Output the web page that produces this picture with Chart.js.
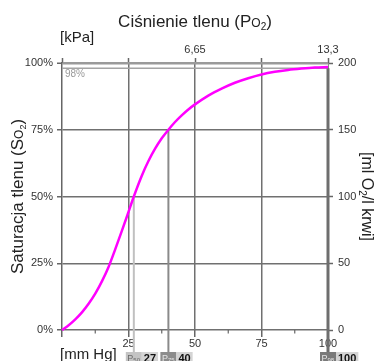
<!DOCTYPE html>
<html>
<head>
<meta charset="utf-8">
<script src="https://cdn.jsdelivr.net/npm/chart.js@4"></script>
<style>
  html, body { margin: 0; padding: 0; background: #fff; }
  canvas { display: block; }
</style>
</head>
<body>
<canvas id="chart" width="378" height="361"></canvas>
<script>
// pO2 [mm Hg] vs haemoglobin saturation [%]
const pressure = [0, 2.5, 5, 7.5, 10, 12.5, 15, 17.5, 20, 22.5, 25, 27, 30, 32.5, 35, 37.5, 40, 42.5, 45, 47.5, 50, 55, 60, 65, 70, 75, 80, 85, 90, 95, 100];
const saturation = [0, 1.8, 4, 6.6, 9.8, 13.6, 18.2, 23.6, 30.2, 37.1, 44.2, 50, 57.8, 63.3, 67.9, 71.8, 75, 77.9, 80.4, 82.6, 84.5, 87.8, 90.4, 92.6, 94.3, 95.7, 96.7, 97.4, 97.9, 98.3, 98.5];

const mmHgTicks = [0, 25, 50, 75, 100];
const minorTicks = [12.5, 37.5, 62.5, 87.5];
const kPaLabels = { 50: '6,65', 100: '13,3' };

// P50 / P75 / P98 markers
const refNames = ['50', '75', '98'];
const refPressure = [27, 40, 100];
const refSaturation = [50, 75, 98];

const FONT = '"Liberation Sans", Arial, sans-serif';
const refLineColor = ['#c0c0c0', '#8a8a8a', '#6e6e6e'];
const refLineWidth = [2, 2, 3];
const refBoxColor = ['#c4c4c4', '#8c8c8c', '#7a7a7a'];
const refBoxText = ['#6a6a6a', '#e6e6e6', '#e6e6e6'];

function line(ctx, x1, y1, x2, y2) {
  ctx.beginPath();
  ctx.moveTo(x1, y1);
  ctx.lineTo(x2, y2);
  ctx.stroke();
}

// draws text made of pieces with different sizes / baseline shifts, centred on (cx, cy)
function richText(ctx, parts, cx, cy, rot) {
  ctx.save();
  ctx.translate(cx, cy);
  ctx.rotate(rot);
  let w = 0;
  parts.forEach(p => { ctx.font = p.size + 'px ' + FONT; w += ctx.measureText(p.t).width; });
  let x = -w / 2;
  ctx.textBaseline = 'alphabetic';
  ctx.textAlign = 'left';
  parts.forEach(p => {
    ctx.font = p.size + 'px ' + FONT;
    ctx.fillText(p.t, x, parts[0].size * 0.36 + (p.dy || 0));
    x += ctx.measureText(p.t).width;
  });
  ctx.restore();
}

const extras = {
  id: 'extras',
  beforeDatasetsDraw(chart) {
    const { ctx, chartArea: a, scales: { x, y } } = chart;
    ctx.save();
    const y98 = y.getPixelForValue(98);
    ctx.strokeStyle = '#a4a4a4';
    ctx.lineWidth = 1.5;
    line(ctx, a.left, y98, a.right, y98);
    ctx.fillStyle = '#9a9a9a';
    ctx.font = '10px ' + FONT;
    ctx.textBaseline = 'top';
    ctx.fillText('98%', a.left + 3, y98 + 1);

    refPressure.forEach((p, i) => {
      const px = x.getPixelForValue(p);
      ctx.strokeStyle = refLineColor[i];
      ctx.lineWidth = refLineWidth[i];
      line(ctx, px, y.getPixelForValue(refSaturation[i]), px, a.bottom + 22);
    });
    ctx.restore();
  },
  afterDraw(chart) {
    const { ctx, chartArea: a, scales: { x } } = chart;
    ctx.save();
    ctx.fillStyle = '#222';

    // minor ticks under the mm Hg axis
    ctx.strokeStyle = '#666';
    ctx.lineWidth = 1.2;
    minorTicks.forEach(v => {
      const px = x.getPixelForValue(v);
      line(ctx, px, a.bottom, px, a.bottom + 3.5);
    });

    richText(ctx, [
      { t: 'Ciśnienie tlenu (P', size: 17 },
      { t: 'O', size: 12 },
      { t: '2', size: 10, dy: 3 },
      { t: ')', size: 17 }
    ], (a.left + a.right) / 2, 21, 0);

    richText(ctx, [
      { t: 'Saturacja tlenu (S', size: 17 },
      { t: 'O', size: 12 },
      { t: '2', size: 9, dy: 3 },
      { t: ')', size: 17 }
    ], 17, (a.top + a.bottom) / 2, -Math.PI / 2);

    richText(ctx, [
      { t: '[ml O', size: 16 },
      { t: '2', size: 10, dy: 3 },
      { t: '/l krwi]', size: 16 }
    ], 368, (a.top + a.bottom) / 2, Math.PI / 2);

    ctx.font = '15px ' + FONT;
    ctx.textBaseline = 'alphabetic';
    ctx.fillText('[kPa]', a.left - 2, 42);
    ctx.fillText('[mm Hg]', a.left - 2, 359);

    // P50 / P75 / P98 boxes
    refNames.forEach((n, i) => {
      const px = x.getPixelForValue(refPressure[i]);
      const top = a.bottom + 22, h = 10, w1 = 16;
      ctx.fillStyle = refBoxColor[i];
      ctx.fillRect(px - w1 / 2, top, w1, h);
      ctx.fillStyle = refBoxText[i];
      ctx.font = '9px ' + FONT;
      ctx.fillText('P', px - w1 / 2 + 1.5, top + 9);
      ctx.font = '6px ' + FONT;
      ctx.fillText(n, px - w1 / 2 + 7.5, top + 9.5);
      ctx.font = 'bold 11px ' + FONT;
      const val = String(refPressure[i]);
      const w2 = ctx.measureText(val).width + 4;
      ctx.fillStyle = '#d4d4d4';
      ctx.fillRect(px + w1 / 2, top, w2, h);
      ctx.fillStyle = '#111';
      ctx.fillText(val, px + w1 / 2 + 2, top + 9.5);
    });
    ctx.restore();
  }
};

const tickFont = { family: FONT, size: 11 };

new Chart(document.getElementById('chart'), {
  type: 'line',
  data: {
    datasets: [{
      data: pressure.map((p, i) => ({ x: p, y: saturation[i] })),
      borderColor: '#ff00ff',
      borderWidth: 2.5,
      pointRadius: 0,
      cubicInterpolationMode: 'monotone',
      xAxisID: 'x',
      yAxisID: 'y',
      clip: false
    }]
  },
  options: {
    responsive: false,
    animation: false,
    events: [],
    layout: { padding: 0 },
    plugins: { legend: { display: false }, tooltip: { enabled: false } },
    scales: {
      x: {
        type: 'linear', position: 'bottom', min: 0, max: 100,
        afterBuildTicks: s => { s.ticks = mmHgTicks.map(v => ({ value: v })); },
        afterFit: s => { s.height = 31; },
        ticks: { callback: v => v === 0 ? '' : v, color: '#333', font: tickFont, padding: 0, maxRotation: 0, autoSkip: false },
        grid: {
          color: c => (c.tick && (c.tick.value === 0 || c.tick.value === 100)) ? 'rgba(0,0,0,0)' : '#707070',
          lineWidth: 1.5, tickLength: 7, tickColor: '#666', tickWidth: 1.5
        },
        border: { display: false }
      },
      x2: {
        type: 'linear', position: 'top', min: 0, max: 100, display: true,
        afterBuildTicks: s => { s.ticks = mmHgTicks.map(v => ({ value: v })); },
        afterFit: s => { s.height = 63; },
        ticks: { callback: v => kPaLabels[v] || '', color: '#333', font: tickFont, padding: 1, maxRotation: 0, autoSkip: false },
        grid: { drawOnChartArea: false, tickLength: 5, tickColor: '#666', tickWidth: 1.5 },
        border: { display: false }
      },
      y: {
        position: 'left', min: 0, max: 100,
        afterFit: s => { s.width = 62; },
        ticks: { stepSize: 25, callback: v => v + '%', color: '#333', font: tickFont, padding: 4 },
        grid: {
          color: c => (c.tick && c.tick.value === 100) ? '#9a9a9a' : '#707070',
          lineWidth: c => (c.tick && c.tick.value === 100) ? 2.5 : 1.5,
          tickLength: 5, tickColor: '#666', tickWidth: 1.5
        },
        border: { display: true, color: '#666', width: 1.5 }
      },
      y2: {
        position: 'right', min: 0, max: 200, display: true,
        afterFit: s => { s.width = 50; },
        ticks: { stepSize: 50, color: '#333', font: tickFont, padding: 5 },
        grid: { drawOnChartArea: false, tickLength: 5, tickColor: '#666', tickWidth: 1.5 },
        border: { display: true, color: '#888', width: 1 }
      }
    }
  },
  plugins: [extras]
});
</script>
</body>
</html>
